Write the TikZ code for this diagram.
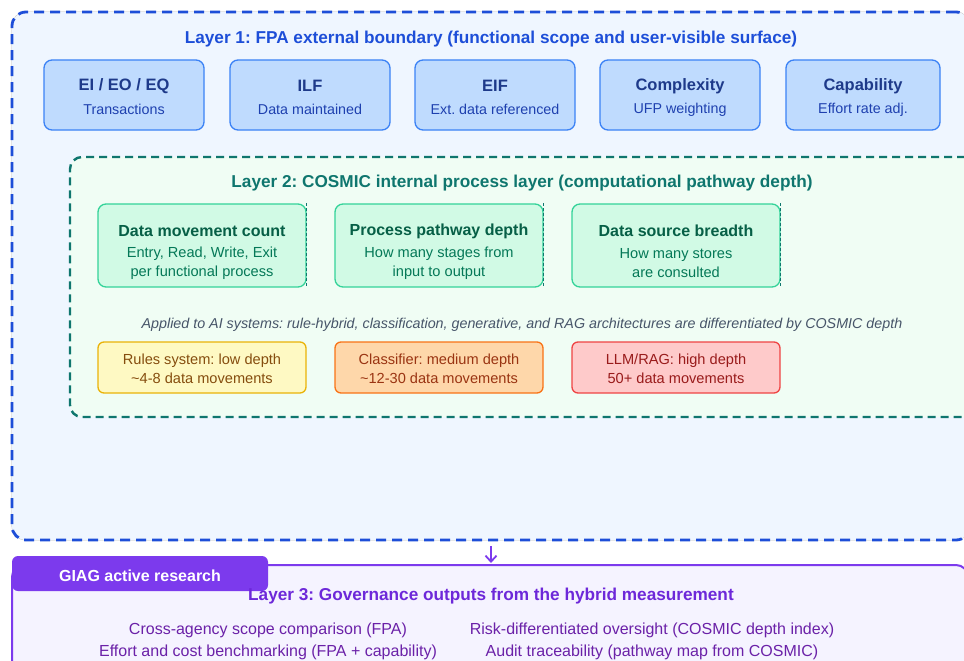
\documentclass[tikz,border=0pt]{standalone}
\usepackage{fontspec}
\setmainfont{Liberation Sans}
\usetikzlibrary{arrows.meta}
\frenchspacing
\definecolor{lone}{HTML}{1D4ED8}
\definecolor{lonefill}{HTML}{EFF6FF}
\definecolor{bfill}{HTML}{BFDBFE}
\definecolor{bdraw}{HTML}{3B82F6}
\definecolor{btitle}{HTML}{1E3A8A}
\definecolor{bsub}{HTML}{1E40AF}
\definecolor{ltwo}{HTML}{0F766E}
\definecolor{ltwofill}{HTML}{F0FDF4}
\definecolor{gfill}{HTML}{D1FAE5}
\definecolor{gdraw}{HTML}{34D399}
\definecolor{gtitle}{HTML}{065F46}
\definecolor{gsub}{HTML}{047857}
\definecolor{itgray}{HTML}{475569}
\definecolor{yfill}{HTML}{FEF9C3}
\definecolor{ydraw}{HTML}{EAB308}
\definecolor{ytext}{HTML}{854D0E}
\definecolor{ofill}{HTML}{FED7AA}
\definecolor{odraw}{HTML}{F97316}
\definecolor{otext}{HTML}{9A3412}
\definecolor{rfill}{HTML}{FECACA}
\definecolor{rdraw}{HTML}{EF4444}
\definecolor{rtext}{HTML}{991B1B}
\definecolor{pur}{HTML}{7C3AED}
\definecolor{purfill}{HTML}{F5F3FF}
\definecolor{purtitle}{HTML}{6D28D9}
\definecolor{purtext}{HTML}{6B21A8}
\begin{document}
\begin{tikzpicture}[x=1pt,y=-1pt,
  layerone/.style={draw=lone, fill=lonefill, line width=2.8pt, dash pattern=on 10pt off 6pt, rounded corners=14pt, inner sep=0pt,
    preaction={draw=black!28, line width=0.7pt, solid}},
  layertwo/.style={draw=ltwo, fill=ltwofill, line width=2.4pt, dash pattern=on 8pt off 5pt, rounded corners=12pt, inner sep=0pt},
  layerthree/.style={draw=pur, fill=purfill, line width=2pt, rounded corners=12pt, inner sep=0pt},
  fpabox/.style={draw=bdraw, fill=bfill, line width=1.3pt, rounded corners=8pt, minimum width=160pt, minimum height=70pt, inner sep=0pt},
  gbox/.style={draw=gdraw, fill=gfill, line width=1.3pt, rounded corners=8pt, minimum width=208pt, minimum height=83pt, inner sep=0pt},
  gedge/.style={draw=ltwo, line width=0.9pt, dash pattern=on 3pt off 2pt},
  cbox/.style={line width=1.3pt, rounded corners=6pt, minimum width=208pt, minimum height=51pt, inner sep=0pt},
  ltitle/.style={font=\fontsize{17.2}{20}\selectfont\bfseries},
  btitletext/.style={font=\fontsize{16.5}{19}\selectfont\bfseries, text=btitle},
  bsubtext/.style={font=\fontsize{14.3}{17}\selectfont, text=bsub},
  gtitletext/.style={font=\fontsize{16}{19}\selectfont\bfseries, text=gtitle},
  gsubtext/.style={font=\fontsize{14.6}{19}\selectfont, text=gsub, align=center},
  ctext/.style={font=\fontsize{14.6}{19}\selectfont, align=center},
  ptext/.style={font=\fontsize{16}{22}\selectfont, text=purtext, align=center},
]
\useasboundingbox (0,0) rectangle (964,661);
\clip (0,0) rectangle (964,661);
\fill[white] (0,0) rectangle (964,661);

% Layer 1
\node[layerone, minimum width=958pt, minimum height=528pt] (L1) at (491,276) {};
\node[ltitle, text=lone] (L1t) at (491,39.5) {Layer 1: FPA external boundary (functional scope and user-visible surface)};

\node[fpabox] (b1) at (124,95) {};
\node[fpabox] (b2) at (310,95) {};
\node[fpabox] (b3) at (495,95) {};
\node[fpabox] (b4) at (680,95) {};
\node[fpabox, minimum width=154pt] (b5) at (863,95) {};
\node[btitletext] (b1t) at (124,86) {EI / EO / EQ};
\node[bsubtext] (b1s) at (124,109.5) {Transactions};
\node[btitletext] (b2t) at (310,86) {ILF};
\node[bsubtext] (b2s) at (310,109.5) {Data maintained};
\node[btitletext] (b3t) at (495,86) {EIF};
\node[bsubtext] (b3s) at (495,109.5) {Ext. data referenced};
\node[btitletext] (b4t) at (680,86) {Complexity};
\node[bsubtext] (b4s) at (680,109.5) {UFP weighting};
\node[btitletext] (b5t) at (863,86) {Capability};
\node[bsubtext] (b5s) at (863,109.5) {Effort rate adj.};

% Layer 2
\node[layertwo, minimum width=920pt, minimum height=260pt] (L2) at (530,287) {};
\node[ltitle, text=ltwo] (L2t) at (522,183.5) {Layer 2: COSMIC internal process layer (computational pathway depth)};

\node[gbox] (g1) at (202,245.5) {};
\node[gbox] (g2) at (439,245.5) {};
\node[gbox] (g3) at (676,245.5) {};
\draw[gedge] (g1.north east) -- (g1.south east);
\draw[gedge] (g2.north east) -- (g2.south east);
\draw[gedge] (g3.north east) -- (g3.south east);
\node[gtitletext] (g1t) at (202,231) {Data movement count};
\node[gsubtext] (g1s) at (202,263.5) {Entry, Read, Write, Exit\\per functional process};
\node[gtitletext] (g2t) at (439,231) {Process pathway depth};
\node[gsubtext] (g2s) at (439,263.5) {How many stages from\\input to output};
\node[gtitletext] (g3t) at (676,231) {Data source breadth};
\node[gsubtext] (g3s) at (676,263.5) {How many stores\\are consulted};

\node[font=\fontsize{14.3}{17}\selectfont\itshape, text=itgray] (app) at (522,325) {Applied to AI systems: rule-hybrid, classification, generative, and RAG architectures are differentiated by COSMIC depth};

\node[cbox, draw=ydraw, fill=yfill] (c1) at (202,367.5) {};
\node[cbox, draw=odraw, fill=ofill] (c2) at (439,367.5) {};
\node[cbox, draw=rdraw, fill=rfill] (c3) at (676,367.5) {};
\node[ctext, text=ytext] (c1t) at (202,369) {Rules system: low depth\\\textasciitilde4-8 data movements};
\node[ctext, text=otext] (c2t) at (439,369) {Classifier: medium depth\\\textasciitilde12-30 data movements};
\node[ctext, text=rtext] (c3t) at (676,369) {LLM/RAG: high depth\\50+ data movements};

% Layer 3
\node[layerthree, minimum width=956pt, minimum height=135pt] (L3) at (490,632.5) {};
\coordinate (ax) at (491,0);
\draw[pur, line width=1.8pt, -{Straight Barb[length=6pt,width=11pt]}, shorten <=5pt, shorten >=1pt] (L1.south -| ax) -- (L3.north -| ax);
\node[fill=pur, rounded corners=6pt, minimum width=256pt, minimum height=35pt, inner sep=0pt] (tab) at (140,573.5) {};
\node[font=\fontsize{16}{19}\selectfont\bfseries, text=white] (tabt) at (140,575.5) {GIAG active research};
\node[ltitle, text=purtitle] (L3t) at (491,596.5) {Layer 3: Governance outputs from the hybrid measurement};
\node[ptext] (p1) at (268,641) {Cross-agency scope comparison (FPA)\\Effort and cost benchmarking (FPA + capability)};
\node[ptext] (p2) at (652,641) {Risk-differentiated oversight (COSMIC depth index)\\Audit traceability (pathway map from COSMIC)};
\end{tikzpicture}
\end{document}
